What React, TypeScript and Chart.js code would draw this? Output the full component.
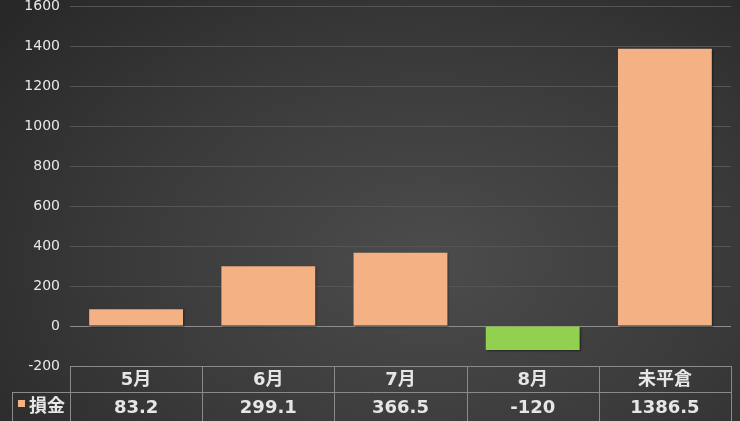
import { useRef, useEffect } from "react";
import { Chart, registerables, Plugin } from "chart.js";

Chart.register(...registerables);

const categories = ["5月", "6月", "7月", "8月", "未平倉"];
const lossValues = [83.2, 299.1, 366.5, -120, 1386.5];
const valueLabels = ["83.2", "299.1", "366.5", "-120", "1386.5"];
const seriesName = "損金";

const POS_COLOR = "#F4B183";
const NEG_COLOR = "#92D050";
const FONT = "'DejaVu Sans', 'Noto Sans CJK JP', sans-serif";

// soft shadow under the bars
const barShadow: Plugin<"bar"> = {
  id: "barShadow",
  beforeDatasetsDraw(chart) {
    const ctx = chart.ctx;
    ctx.save();
    ctx.shadowColor = "rgba(0,0,0,0.45)";
    ctx.shadowBlur = 2;
    ctx.shadowOffsetX = 1;
    ctx.shadowOffsetY = 1;
  },
  afterDatasetsDraw(chart) {
    chart.ctx.restore();
  },
};

// data table under the plot
const dataTable: Plugin<"bar"> = {
  id: "dataTable",
  afterDraw(chart) {
    const { ctx, chartArea } = chart;
    const left = chartArea.left;
    const right = chartArea.right;
    const top = chartArea.bottom;
    const rowH = 26;
    const mid = top + rowH;
    const bottom = chart.height + 2;
    const colW = (right - left) / categories.length;
    const legendLeft = 12;

    ctx.save();
    ctx.strokeStyle = "#8a8a8a";
    ctx.lineWidth = 1;
    ctx.beginPath();
    ctx.moveTo(left, top + 0.5);
    ctx.lineTo(right, top + 0.5);
    ctx.moveTo(legendLeft, mid + 0.5);
    ctx.lineTo(right, mid + 0.5);
    for (let i = 0; i <= categories.length; i++) {
      const x = Math.round(left + i * colW) + 0.5;
      ctx.moveTo(x, top);
      ctx.lineTo(x, bottom);
    }
    ctx.moveTo(legendLeft + 0.5, mid);
    ctx.lineTo(legendLeft + 0.5, bottom);
    ctx.stroke();

    ctx.fillStyle = "#e6e6e6";
    ctx.font = `bold 18px ${FONT}`;
    ctx.textAlign = "center";
    ctx.textBaseline = "middle";
    categories.forEach((c, i) => {
      const x = left + (i + 0.5) * colW;
      ctx.fillText(c, x, top + rowH / 2 + 1);
      ctx.fillText(valueLabels[i], x, mid + 16);
    });

    ctx.fillStyle = POS_COLOR;
    ctx.fillRect(18, mid + 8, 7, 7);
    ctx.fillStyle = "#e6e6e6";
    ctx.textAlign = "left";
    ctx.fillText(seriesName, 29, mid + 15);
    ctx.restore();
  },
};

const LossChart = () => {
  const chartRef = useRef<HTMLCanvasElement>(null);

  useEffect(() => {
    if (!chartRef.current) return;
    const chart = new Chart(chartRef.current, {
      type: "bar",
      data: {
        labels: categories,
        datasets: [
          {
            label: seriesName,
            data: lossValues,
            backgroundColor: lossValues.map((v) => (v < 0 ? NEG_COLOR : POS_COLOR)),
            borderWidth: 0,
            barPercentage: 0.71,
            categoryPercentage: 1,
          },
        ],
      },
      options: {
        animation: false,
        responsive: true,
        maintainAspectRatio: false,
        layout: { padding: { top: 6, left: 0, right: 9, bottom: 55 } },
        plugins: {
          legend: { display: false },
          tooltip: { enabled: false },
        },
        scales: {
          x: { display: false },
          y: {
            min: -200,
            max: 1600,
            afterFit(scale) {
              scale.width = 70;
              scale.paddingTop = 0;
              scale.paddingBottom = 0;
            },
            ticks: {
              stepSize: 200,
              padding: 10,
              color: "#e8e8e8",
              font: { family: FONT, size: 14 },
              callback: (v) => String(v),
            },
            grid: {
              drawTicks: false,
              color: (c) => (c.tick && c.tick.value === 0 ? "#8c8c8c" : "#555555"),
            },
            border: { display: false },
          },
        },
      },
      plugins: [barShadow, dataTable],
    });
    return () => chart.destroy();
  }, []);

  return <canvas ref={chartRef} />;
};

export default function App() {
  return (
    <div
      style={{
        position: "fixed",
        left: 0,
        top: 0,
        width: 740,
        height: 421,
        background: "radial-gradient(ellipse 75% 90% at 58% 62%, #4c4c4c 0%, #3a3a3a 55%, #282828 100%)",
      }}
    >
      <LossChart />
    </div>
  );
}
